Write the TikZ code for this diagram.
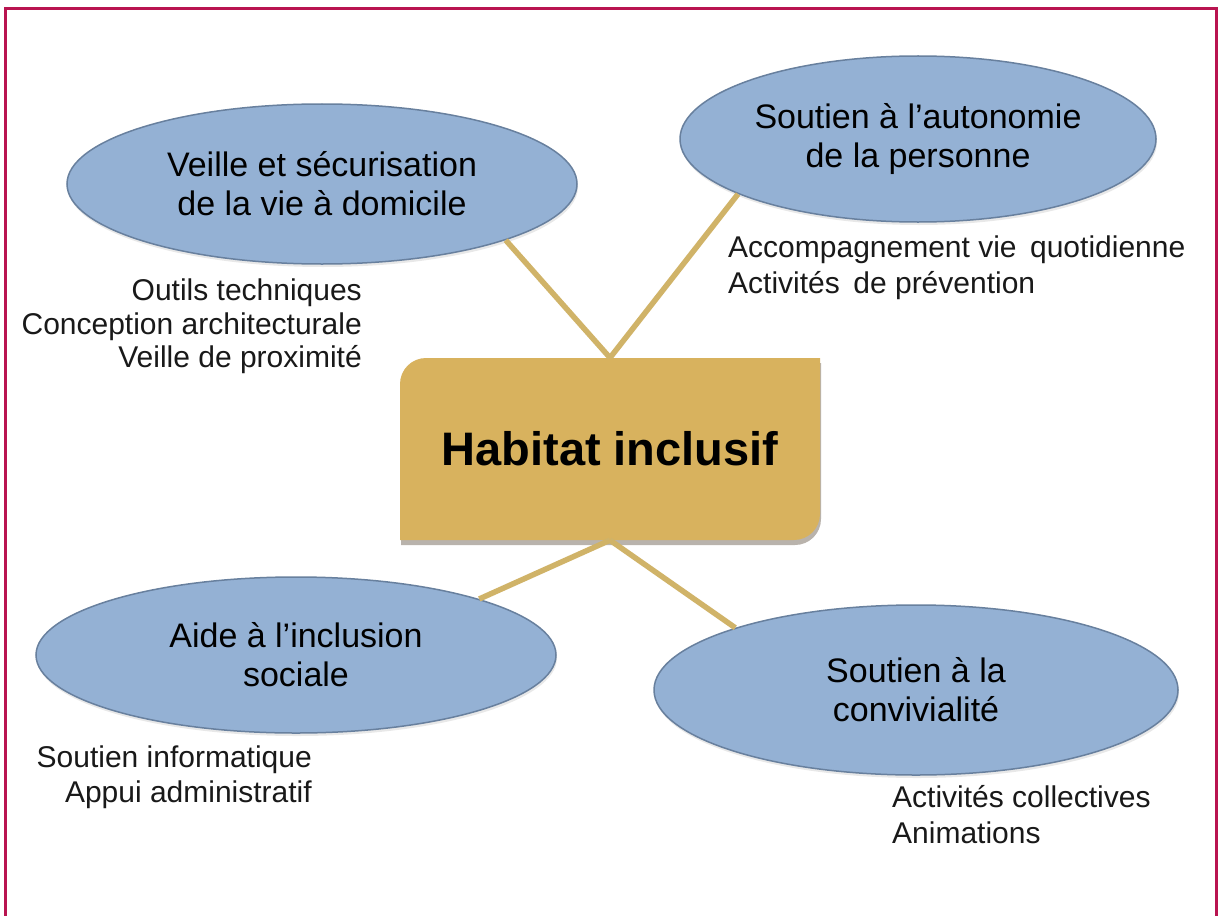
\documentclass[tikz,border=0pt]{standalone}
\usepackage{fontspec}
\setmainfont{Liberation Sans}
\usetikzlibrary{shapes.geometric,shadows}
\definecolor{ellfill}{RGB}{148,177,212}
\definecolor{elldraw}{RGB}{104,128,158}
\definecolor{hubcol}{RGB}{216,178,94}
\definecolor{linkcol}{RGB}{208,179,104}
\definecolor{framecol}{RGB}{185,20,80}
\begin{document}
\begin{tikzpicture}[x=1pt,y=-1pt,
  bubble/.style={ellipse, fill=ellfill, draw=elldraw, line width=1.5pt, inner sep=0pt,
    align=center, font=\fontsize{34}{39}\selectfont, text=black,
    drop shadow={opacity=0.18, shadow xshift=1pt, shadow yshift=-3pt}},
  note/.style={font=\fontsize{30}{34}\selectfont, inner sep=0pt, text=black!90},
  link/.style={draw=linkcol, line width=5.5pt}]
\useasboundingbox (0,0) rectangle (1222,915);
\fill[white] (0,0) rectangle (1222,915);
\draw[framecol, line width=3pt] (5,9) rectangle (1216,935);
% hub shape
\begin{scope}[shift={(1,5)}]
\fill[black!70!brown, opacity=0.35] (400,384) arc[start angle=180,end angle=270,radius=26] -- (820,358) -- (820,514) arc[start angle=0,end angle=90,radius=26] -- (400,540) -- cycle;
\end{scope}
\fill[hubcol] (400,384) arc[start angle=180,end angle=270,radius=26] -- (820,358) -- (820,514) arc[start angle=0,end angle=90,radius=26] -- (400,540) -- cycle;
\node[minimum width=420pt, minimum height=182pt, inner sep=0pt,
  font=\fontsize{47}{50}\selectfont\bfseries] (hub) at (610,449) {Habitat inclusif};
% bubbles
\node[bubble, minimum width=510pt, minimum height=160pt] (e1) at (322,184)
  {Veille et sécurisation\\de la vie à domicile};
\node[bubble, minimum width=476pt, minimum height=166pt] (e2) at (918,139)
  {Soutien à l’autonomie\\de la personne};
\node[bubble, minimum width=520pt, minimum height=156pt] (e3) at (296,655)
  {Aide à l’inclusion\\sociale};
\node[bubble, minimum width=524pt, minimum height=170pt] (e4) at (916,690)
  {Soutien à la\\convivialité};
% connectors
\draw[link] (hub.north) -- (e1.343.4);
\draw[link] (hub.north) -- (e2.197.6);
\draw[link] (hub.south) -- (e3.17.3);
\draw[link] (hub.south) -- (e4.161.5);
% notes
\node[note, anchor=base east] (n1a) at (362,300) {Outils techniques};
\node[note, anchor=base east] (n1b) at (362,334) {Conception architecturale};
\node[note, anchor=base east] (n1c) at (362,367) {Veille de proximité};
\node[note, anchor=base west] (n2a) at (728,257) {Accompagnement vie\hspace{0.45em}quotidienne};
\node[note, anchor=base west] (n2b) at (728,293) {Activités\hspace{0.45em}de prévention};
\node[note, anchor=base east] (n3a) at (312,767) {Soutien informatique};
\node[note, anchor=base east] (n3b) at (312,802) {Appui administratif};
\node[note, anchor=base west] (n4a) at (892,807) {Activités collectives};
\node[note, anchor=base west] (n4b) at (892,843) {Animations};
\end{tikzpicture}
\end{document}
